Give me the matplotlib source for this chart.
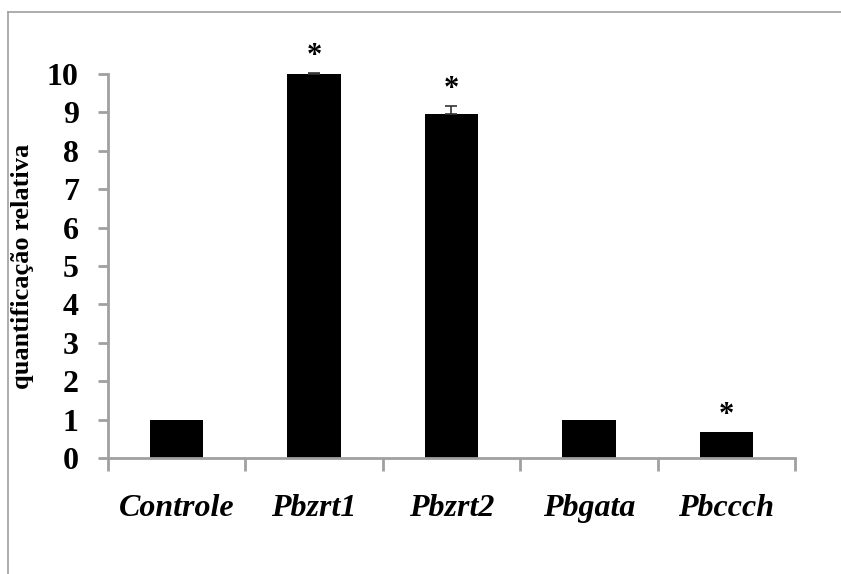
import matplotlib
matplotlib.use("Agg")
import matplotlib.pyplot as plt
from matplotlib.lines import Line2D
import numpy as np

# data
categories = ["Controle", "Pbzrt1", "Pbzrt2", "Pbgata", "Pbccch"]
values = [1.0, 10.0, 8.97, 1.0, 0.68]
errors = [0.0, 0.03, 0.2, 0.0, 0.0]
significant = [False, True, True, False, True]
yticks = list(range(0, 11))

grey = "#a0a0a0"
plt.rcParams["font.family"] = ["Liberation Serif", "DejaVu Serif"]

fig = plt.figure(figsize=(8.41, 5.74), dpi=100)
ax = fig.add_axes([108 / 841, 116 / 574, 687 / 841, 384 / 574])

x = np.arange(len(categories))
ax.bar(x, values, width=0.39, color="black", zorder=2)

# upper error bars only where there is an error
has_err = [e > 0 for e in errors]
ex = [xi for xi, h in zip(x, has_err) if h]
ev = [v for v, h in zip(values, has_err) if h]
ee = [e for e, h in zip(errors, has_err) if h]
ax.errorbar(ex, ev, yerr=[np.zeros(len(ee)), ee], fmt="none", ecolor="#333333",
            elinewidth=1.2, capsize=4, capthick=1.2, zorder=3, clip_on=False)

# asterisks above the significant bars
for xi, v, e, s in zip(x, values, errors, significant):
    if s:
        ax.annotate("*", (xi, v + e), xytext=(0, 1), textcoords="offset points",
                    ha="center", va="bottom", fontsize=22, fontweight="bold",
                    annotation_clip=False)

ax.set_xlim(-0.5, len(categories) - 0.5)
ax.set_ylim(0, 10)
ax.set_yticks(yticks)
ax.set_yticklabels([str(t) for t in yticks], fontsize=23, fontweight="bold")

# category labels between boundary ticks
ax.set_xticks(np.arange(-0.5, len(categories), 1.0))
ax.set_xticklabels([])
ax.set_xticks(x, minor=True)
ax.set_xticklabels(categories, minor=True, fontsize=23, fontweight="bold",
                   fontstyle="italic")
ax.tick_params(axis="x", which="minor", length=0, pad=26)
ax.tick_params(axis="x", which="major", length=9, width=2, color=grey)
ax.tick_params(axis="y", length=7, width=2, color=grey, pad=14)

for side in ["top", "right"]:
    ax.spines[side].set_visible(False)
for side in ["left", "bottom"]:
    ax.spines[side].set_color(grey)
    ax.spines[side].set_linewidth(2)

ax.set_ylabel("quantificação relativa", fontsize=19, fontweight="bold", labelpad=9)

# partial frame around the picture (top and left edges)
fig.add_artist(Line2D([8 / 841, 1], [1 - 12 / 574, 1 - 12 / 574], color=grey, lw=1.2))
fig.add_artist(Line2D([8 / 841, 8 / 841], [0, 1 - 12 / 574], color=grey, lw=1.2))

fig.savefig("out.png", dpi=100)
